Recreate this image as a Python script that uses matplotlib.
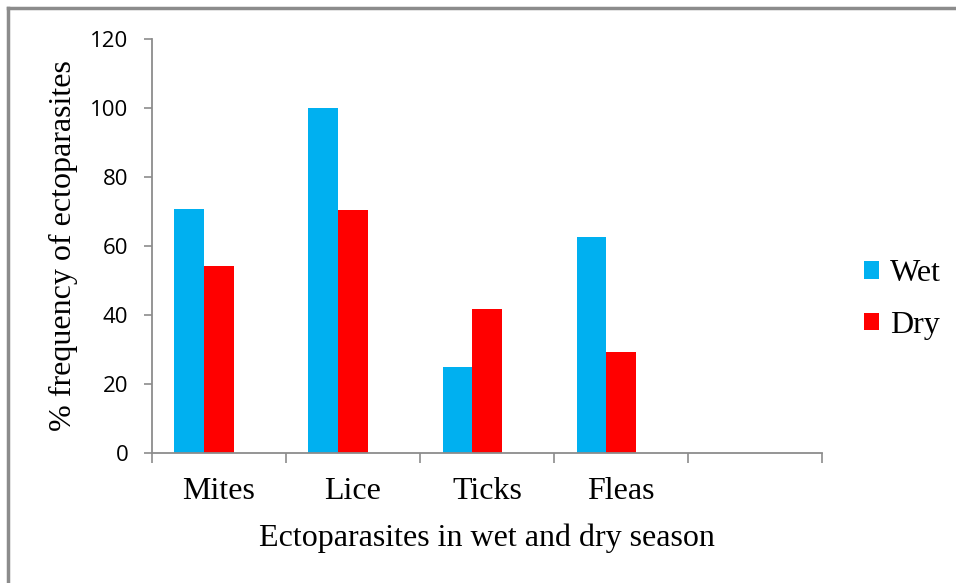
import matplotlib.pyplot as plt
import numpy as np
from matplotlib.lines import Line2D

# Dados: frequência (%) de ectoparasitas por estação
categorias = ["Mites", "Lice", "Ticks", "Fleas", ""]
umida = [70.8, 100.0, 25.0, 62.5]
seca = [54.2, 70.3, 41.7, 29.2]
yticks = [0, 20, 40, 60, 80, 100, 120]

cinza = "#8c8c8c"
azul = "#00b0f0"
vermelho = "#ff0000"
serif = "Liberation Serif"

fig = plt.figure(figsize=(9.56, 5.83), dpi=100)
ax = fig.add_axes([0.159, 0.223, 0.701, 0.71])

x = np.arange(len(umida))
w = 0.2216
ax.bar(x - w, umida, width=w, align="center", color=azul, label="Wet")
ax.bar(x, seca, width=w, align="center", color=vermelho, label="Dry")

ax.set_xlim(-0.5, len(categorias) - 0.5)
ax.set_ylim(0, 120)

# Eixos no estilo do Excel
for lado in ["top", "right"]:
    ax.spines[lado].set_visible(False)
for lado in ["left", "bottom"]:
    ax.spines[lado].set_color(cinza)
    ax.spines[lado].set_linewidth(1.3)

ax.set_yticks(yticks)
ax.set_yticklabels([str(v) for v in yticks], fontfamily="Open Sans", fontsize=16)
ax.tick_params(axis="y", length=6, width=1.2, color=cinza, pad=11)

ax.set_xticks(np.arange(len(categorias) + 1) - 0.5)
ax.set_xticklabels([])
ax.tick_params(axis="x", which="major", length=7, width=1.2, color=cinza)
ax.set_xticks(np.arange(len(categorias)), minor=True)
ax.set_xticklabels(categorias, minor=True, fontfamily=serif, fontsize=23)
ax.tick_params(axis="x", which="minor", length=0, pad=17)

ax.set_xlabel("Ectoparasites in wet and dry season", fontfamily=serif,
              fontsize=23, labelpad=13)
ax.set_ylabel("% frequency of ectoparasites", fontfamily=serif,
              fontsize=23, labelpad=9)

ax.legend(loc="center left", bbox_to_anchor=(0.887, 0.486), bbox_transform=fig.transFigure,
          frameon=False, handlelength=0.47, handleheight=0.47, handletextpad=0.35,
          labelspacing=0.7, borderpad=0, prop={"family": serif, "size": 23})

# Moldura cinza do gráfico (só topo e esquerda aparecem)
fig.add_artist(Line2D([0.0085, 1.0], [0.986, 0.986], color=cinza, lw=2.5,
                      transform=fig.transFigure))
fig.add_artist(Line2D([0.0085, 0.0085], [0.0, 0.986], color=cinza, lw=2.5,
                      transform=fig.transFigure))

fig.savefig("out.png", dpi=100)
